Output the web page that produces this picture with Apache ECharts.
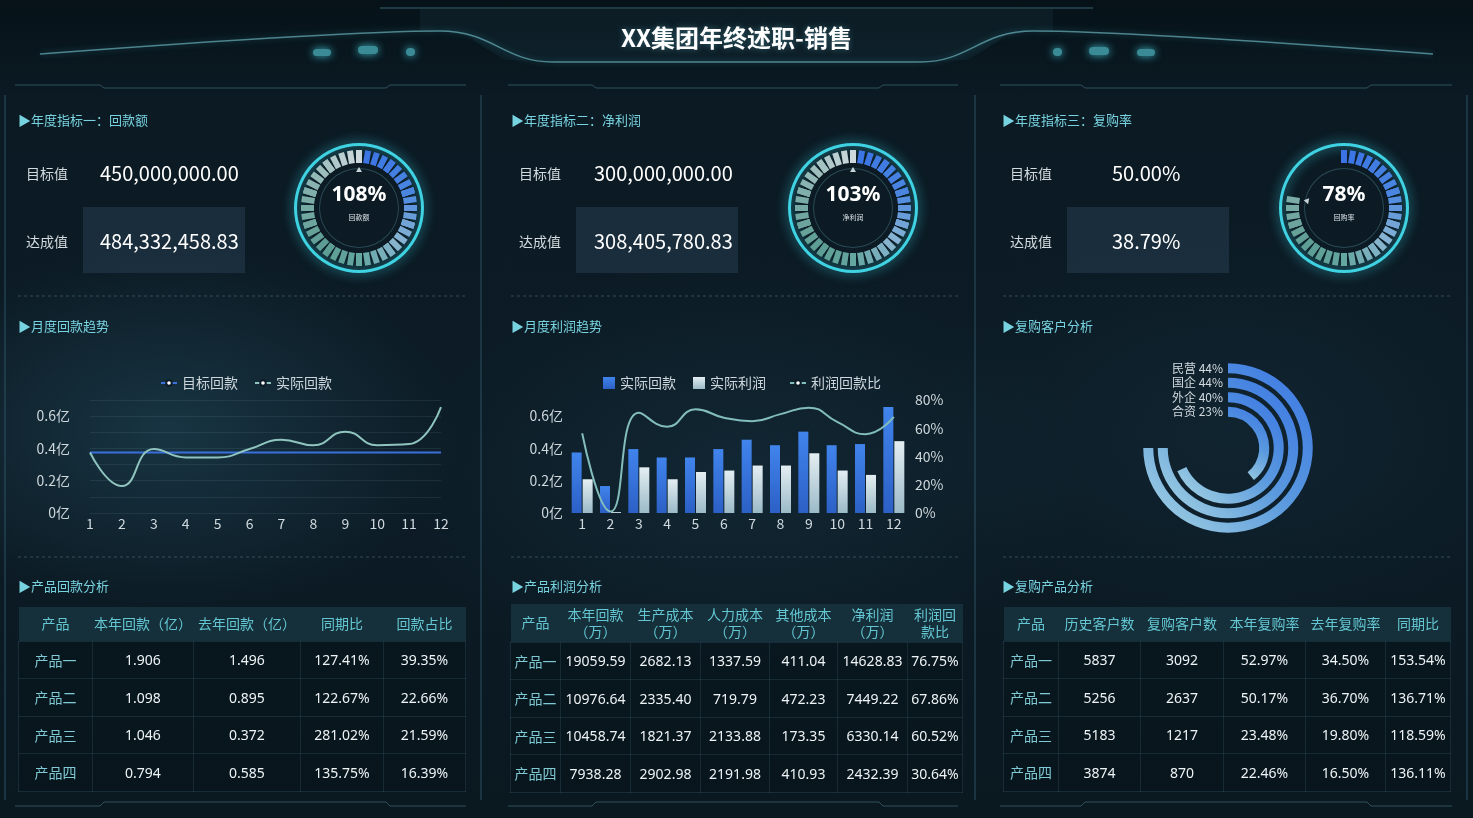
<!DOCTYPE html>
<html>
<head>
<meta charset="utf-8">
<script src="https://cdn.jsdelivr.net/npm/echarts@6/dist/echarts.min.js"></script>
<style>
html,body{margin:0;padding:0;}
body{width:1473px;height:818px;overflow:hidden;position:relative;font-family:"Noto Sans CJK SC","Noto Sans",sans-serif;
background:
 radial-gradient(ellipse 420px 260px at 170px 430px, rgba(36,78,96,0.50), rgba(36,78,96,0) 70%),
 radial-gradient(ellipse 500px 300px at 740px 470px, rgba(26,58,74,0.40), rgba(26,58,74,0) 70%),
 radial-gradient(ellipse 450px 300px at 1230px 430px, rgba(22,50,66,0.40), rgba(22,50,66,0) 70%),
 linear-gradient(180deg,#061218 0%,#0b1a23 12%,#0c1b25 60%,#0a1820 100%);}
.abs{position:absolute;white-space:nowrap;}
#main,#line,#bar{position:absolute;}
#main{left:0;top:0;width:1473px;height:818px;z-index:0;}
#line{left:0;top:340px;width:481px;height:210px;z-index:1;}
#bar{left:481px;top:340px;width:492px;height:210px;z-index:1;}
.title{left:0;top:18px;width:1473px;text-align:center;color:#fff;font-size:24px;font-weight:bold;line-height:38px;z-index:3;text-shadow:0 0 6px rgba(120,220,240,0.35);}
.sec{color:#78d3e0;font-size:13px;line-height:18px;z-index:3;}
.lbl{color:#d2dade;font-size:14px;line-height:20px;z-index:3;}
.val{color:#fff;font-size:20px;line-height:30px;z-index:3;}
.box{background:rgba(40,64,84,0.50);z-index:2;}
table{position:absolute;border-collapse:collapse;z-index:3;table-layout:fixed;}
th{background:#15303a;color:#63c6d2;font-weight:normal;font-size:14px;line-height:17px;padding:0;text-align:center;}
td{color:#eef3f5;font-size:14px;text-align:center;padding:0;border:1px solid rgba(60,92,108,0.30);background:rgba(8,20,28,0.55);font-family:"Noto Sans","Noto Sans CJK SC",sans-serif;}
td.p{color:#7fcad4;font-family:"Noto Sans CJK SC",sans-serif;}
</style>
</head>
<body>
<div id="main"></div>
<div id="line"></div>
<div id="bar"></div>
<div class="abs title">XX集团年终述职-销售</div>
<script>
// ---------------- data ----------------
const kpiTitles = ['▶年度指标一：回款额', '▶年度指标二：净利润', '▶年度指标三：复购率'];
const kpiTargets = ['450,000,000.00', '300,000,000.00', '50.00%'];
const kpiActuals = ['484,332,458.83', '308,405,780.83', '38.79%'];
const gaugeNames = ['回款额', '净利润', '回购率'];
const gaugeValues = [108, 103, 78];

const midTitles = ['▶月度回款趋势', '▶月度利润趋势', '▶复购客户分析'];
const botTitles = ['▶产品回款分析', '▶产品利润分析', '▶复购产品分析'];

const months = ['1','2','3','4','5','6','7','8','9','10','11','12'];
const targetMonthly = [0.375,0.375,0.375,0.375,0.375,0.375,0.375,0.375,0.375,0.375,0.375,0.375];
const actualMonthly = [0.375,0.167,0.396,0.344,0.344,0.396,0.454,0.42,0.504,0.42,0.427,0.656];
const profitMonthly = [0.209,0.006,0.283,0.209,0.254,0.263,0.294,0.294,0.37,0.263,0.236,0.445];
const ratioMonthly = [56.5,1,71,61,73.4,67.5,65,70,74.6,64.5,55.8,68];

const buyerTypes = ['合资','外企','国企','民营'];
const buyerPct = [23,40,44,44];

const products = ['产品一','产品二','产品三','产品四'];
const t1Head = ['产品','本年回款（亿）','去年回款（亿）','同期比','回款占比'];
const t1ThisYear = ['1.906','1.098','1.046','0.794'];
const t1LastYear = ['1.496','0.895','0.372','0.585'];
const t1Yoy = ['127.41%','122.67%','281.02%','135.75%'];
const t1Share = ['39.35%','22.66%','21.59%','16.39%'];

const t2Head = ['产品','本年回款<br>（万）','生产成本<br>（万）','人力成本<br>（万）','其他成本<br>（万）','净利润<br>（万）','利润回<br>款比'];
const t2Revenue = ['19059.59','10976.64','10458.74','7938.28'];
const t2Production = ['2682.13','2335.40','1821.37','2902.98'];
const t2Labor = ['1337.59','719.79','2133.88','2191.98'];
const t2Other = ['411.04','472.23','173.35','410.93'];
const t2Net = ['14628.83','7449.22','6330.14','2432.39'];
const t2Ratio = ['76.75%','67.86%','60.52%','30.64%'];

const t3Head = ['产品','历史客户数','复购客户数','本年复购率','去年复购率','同期比'];
const t3History = ['5837','5256','5183','3874'];
const t3Repeat = ['3092','2637','1217','870'];
const t3RateThis = ['52.97%','50.17%','23.48%','22.46%'];
const t3RateLast = ['34.50%','36.70%','19.80%','16.50%'];
const t3Yoy = ['153.54%','136.71%','118.59%','136.11%'];

// ---------------- HTML text ----------------
function addDiv(cls, html, x, y, st) {
  const d = document.createElement('div');
  d.className = 'abs ' + cls; d.innerHTML = html;
  d.style.left = x + 'px'; d.style.top = y + 'px';
  if (st) Object.assign(d.style, st);
  document.body.appendChild(d); return d;
}
const colOff = [0, 493, 984];
const valX = [100, 594, 1112];
colOff.forEach((o, i) => {
  addDiv('sec', kpiTitles[i], 18 + o, 111);
  addDiv('sec', midTitles[i], 18 + o, 317);
  addDiv('sec', botTitles[i], 18 + o, 577);
  addDiv('lbl', '目标值', 26 + o, 163);
  addDiv('lbl', '达成值', 26 + o, 231);
  addDiv('box', '', 83 + o, 207, {width: '162px', height: '66px'});
  addDiv('val', kpiTargets[i], valX[i], 158);
  addDiv('val', kpiActuals[i], valX[i], 226);
});

function makeTable(x, y, widths, head, headH, cols, rowH) {
  const t = document.createElement('table');
  t.style.left = x + 'px'; t.style.top = y + 'px';
  t.style.width = widths.reduce((a, b) => a + b, 0) + 'px';
  let h = '<colgroup>' + widths.map(w => '<col style="width:' + w + 'px">').join('') + '</colgroup>';
  h += '<tr style="height:' + headH + 'px">' + head.map(c => '<th>' + c + '</th>').join('') + '</tr>';
  for (let r = 0; r < products.length; r++) {
    h += '<tr style="height:' + rowH + 'px"><td class="p">' + products[r] + '</td>' +
      cols.map(c => '<td>' + c[r] + '</td>').join('') + '</tr>';
  }
  t.innerHTML = h;
  document.body.appendChild(t);
}
makeTable(18, 607, [74,101,107,83,82], t1Head, 34, [t1ThisYear, t1LastYear, t1Yoy, t1Share], 37.5);
makeTable(510, 604, [50,70,70,69,68,70,55], t2Head, 38, [t2Revenue, t2Production, t2Labor, t2Other, t2Net, t2Ratio], 37.5);
makeTable(1003, 607, [55,82,83,82,80,65], t3Head, 34, [t3History, t3Repeat, t3RateThis, t3RateLast, t3Yoy], 37.5);

// ---------------- main chart: decoration, gauges, polar ----------------
const FONT = '"Noto Sans CJK SC","Noto Sans",sans-serif';
const frameStroke = 'rgba(120,200,210,0.6)';
const decor = [];
decor.push({type:'polygon', silent:true, z:-1, shape:{points:[[420,9],[1053,9],[1053,31],[1033,31],[1005,36],[988,48],[968,60],[921,62],[552,62],[505,60],[485,48],[468,36],[440,31],[420,31]]}, style:{fill:'rgba(60,120,135,0.10)'}});
decor.push({type:'line', silent:true, shape:{x1:380,y1:8,x2:1093,y2:8}, style:{stroke:'rgba(110,180,195,0.5)', lineWidth:1}});
decor.push({type:'bezierCurve', silent:true, shape:{x1:40,y1:54,cpx1:200,cpy1:42,cpx2:360,cpy2:31,x2:440,y2:31}, style:{stroke:frameStroke, lineWidth:1.5, shadowBlur:6, shadowColor:'rgba(80,200,220,0.6)'}});
decor.push({type:'bezierCurve', silent:true, shape:{x1:440,y1:31,cpx1:492,cpy1:31,cpx2:505,cpy2:62,x2:552,y2:62}, style:{stroke:frameStroke, lineWidth:1.5, shadowBlur:6, shadowColor:'rgba(80,200,220,0.6)'}});
decor.push({type:'line', silent:true, shape:{x1:552,y1:62,x2:921,y2:62}, style:{stroke:frameStroke, lineWidth:1.5, shadowBlur:6, shadowColor:'rgba(80,200,220,0.6)'}});
decor.push({type:'bezierCurve', silent:true, shape:{x1:921,y1:62,cpx1:968,cpy1:62,cpx2:981,cpy2:31,x2:1033,y2:31}, style:{stroke:frameStroke, lineWidth:1.5, shadowBlur:6, shadowColor:'rgba(80,200,220,0.6)'}});
decor.push({type:'bezierCurve', silent:true, shape:{x1:1033,y1:31,cpx1:1113,cpy1:31,cpx2:1273,cpy2:42,x2:1433,y2:54}, style:{stroke:frameStroke, lineWidth:1.5, shadowBlur:6, shadowColor:'rgba(80,200,220,0.6)'}});
[[313,49,18,7],[358,46,20,8],[406,48,9,8],[1053,48,9,8],[1089,47,20,8],[1137,49,18,7]].forEach(d => {
  decor.push({type:'rect', silent:true, shape:{x:d[0],y:d[1],width:d[2],height:d[3],r:4}, style:{fill:'#3a8b95', shadowBlur:8, shadowColor:'#3fb8c8'}});
});
[[15,100,104,386,390,466],[508,592,596,879,883,958],[1000,1081,1085,1367,1371,1452]].forEach(p => {
  decor.push({type:'polyline', silent:true, shape:{points:[[p[0],85],[p[1],85],[p[2],88],[p[3],88],[p[4],85],[p[5],85]]}, style:{stroke:'rgba(90,150,165,0.45)', lineWidth:1, fill:null}});
  decor.push({type:'polyline', silent:true, shape:{points:[[p[0],806],[p[1],806],[p[2],802],[p[3],802],[p[4],806],[p[5],806]]}, style:{stroke:'rgba(90,150,165,0.45)', lineWidth:1, fill:null}});
  [296, 557].forEach(y => decor.push({type:'line', silent:true, shape:{x1:p[0]+3,y1:y,x2:p[5],y2:y}, style:{stroke:'rgba(120,170,185,0.35)', lineWidth:1, lineDash:[3,3]}}));
});
[5, 481, 975, 1467].forEach(x => decor.push({type:'line', silent:true, shape:{x1:x,y1:95,x2:x,y2:800}, style:{stroke:'rgba(55,100,120,0.5)', lineWidth:1.5}}));

const gaugeCenters = [[359,208],[853,208],[1344,208]];
const gaugeGrad = [[0,[58,114,228]],[0.2,[74,134,224]],[0.36,[138,182,210]],[0.5,[100,166,160]],[0.62,[92,156,146]],[0.8,[128,174,170]],[1,[204,216,220]]];
function gradAt(t) {
  for (let i = 1; i < gaugeGrad.length; i++) {
    if (t <= gaugeGrad[i][0]) {
      const a = gaugeGrad[i-1], b = gaugeGrad[i];
      const k = (t - a[0]) / (b[0] - a[0]);
      const c = a[1].map((v, j) => Math.round(v + (b[1][j] - v) * k));
      return 'rgb(' + c.join(',') + ')';
    }
  }
  return 'rgb(204,216,220)';
}
function segColors(v) {
  const f = Math.min(v / 100, 1), out = [];
  for (let k = 1; k <= 80; k++) { const t = k / 80; out.push([t, t <= f + 1e-6 ? gradAt(t) : 'rgba(0,0,0,0)']); }
  return out;
}
const hidden = {axisTick:{show:false}, splitLine:{show:false}, axisLabel:{show:false}, pointer:{show:false}, detail:{show:false}, title:{show:false}, anchor:{show:false}};
const series = [];
gaugeValues.forEach((v, i) => {
  const c = gaugeCenters[i];
  series.push(Object.assign({type:'gauge', silent:true, center:c, radius:65, startAngle:90, endAngle:-270,
    axisLine:{lineStyle:{width:3, color:[[1,'#3fd2e2']], shadowBlur:12, shadowColor:'rgba(60,210,230,0.9)'}}, data:[{value:0}]}, hidden));
  series.push(Object.assign({type:'gauge', silent:true, center:c, radius:40, startAngle:90, endAngle:-270,
    axisLine:{lineStyle:{width:1, color:[[1,'#2a4a54']]}}, data:[{value:0}]}, hidden));
  series.push({type:'gauge', silent:true, center:c, radius:58, startAngle:90, endAngle:-270, min:0, max:100, splitNumber:10,
    axisLine:{show:false, lineStyle:{width:0, color:segColors(v)}},
    axisTick:{show:true, splitNumber:4, distance:0, length:13, lineStyle:{width:6, color:'auto'}},
    splitLine:{show:true, distance:0, length:13, lineStyle:{width:6, color:'auto'}},
    axisLabel:{show:false}, progress:{show:false}, anchor:{show:false},
    pointer:{show:true, icon:'triangle', length:5, width:6, offsetCenter:[0,-36], itemStyle:{color:'#c6d4d8'}},
    title:{offsetCenter:[0,9], fontSize:7, color:'#d8e0e4', fontFamily:FONT},
    detail:{offsetCenter:[0,-13], formatter:'{value}%', fontSize:21, fontWeight:'bold', color:'#ffffff', fontFamily:'"Noto Sans",sans-serif'},
    data:[{value:v, name:gaugeNames[i]}]});
});
series.push({type:'bar', coordinateSystem:'polar', silent:true, barWidth:10, data:buyerPct,
  itemStyle:{color:new echarts.graphic.LinearGradient(1,0,0,1,[{offset:0,color:'#3a76e4'},{offset:0.5,color:'#5b9ade'},{offset:1,color:'#a8d6e2'}])}});

const main = echarts.init(document.getElementById('main'));
main.setOption({
  animation:false,
  textStyle:{fontFamily:FONT},
  polar:{center:[1228,448], radius:[29,87]},
  angleAxis:{max:58.67, startAngle:90, clockwise:true, show:false},
  radiusAxis:{type:'category', data:buyerTypes, z:10, axisLine:{show:false}, axisTick:{show:false}, splitLine:{show:false},
    axisLabel:{interval:0, color:'#d3dbe0', fontSize:12, margin:5, formatter:(n, i) => n + ' ' + buyerPct[i] + '%'}},
  graphic:{elements:decor},
  series:series
});

// ---------------- line chart ----------------
const axisTxt = {color:'#cfd8dd', fontSize:14, fontFamily:FONT};
const legendTxt = {color:'#cdd6dc', fontSize:14};
const darkFill = '#0c1b25';
const yiFmt = v => (Math.round(v * 10) % 2 === 0 ? (Math.round(v * 10) / 10) + '亿' : '');
const lineChart = echarts.init(document.getElementById('line'));
lineChart.setOption({
  animation:false,
  textStyle:{fontFamily:FONT},
  legend:{left:155, top:31, itemWidth:16, itemHeight:7, itemGap:16, textStyle:legendTxt,
    data:[{name:'目标回款', itemStyle:{color:darkFill, borderColor:'#3a70dc', borderWidth:1.5}},
          {name:'实际回款', itemStyle:{color:darkFill, borderColor:'#8fc4bf', borderWidth:1.5}}]},
  grid:{left:90, top:60, width:351, height:113},
  xAxis:{type:'category', data:months, boundaryGap:false, axisLine:{show:false}, axisTick:{show:false}, axisLabel:Object.assign({margin:4}, axisTxt)},
  yAxis:{type:'value', min:0, max:0.7, interval:0.1, axisLine:{show:false}, axisTick:{show:false},
    axisLabel:Object.assign({margin:20, formatter:yiFmt}, axisTxt),
    splitLine:{lineStyle:{color:'rgba(130,170,190,0.12)'}}},
  series:[
    {name:'目标回款', type:'line', data:targetMonthly, symbol:'emptyCircle', showSymbol:false, lineStyle:{color:'#3a70dc', width:2}, itemStyle:{color:'#3a70dc'}},
    {name:'实际回款', type:'line', data:actualMonthly, smooth:true, symbol:'emptyCircle', showSymbol:false, lineStyle:{color:'#8fc4bf', width:2}, itemStyle:{color:'#8fc4bf'}}
  ]
});

// ---------------- bar chart ----------------
const barChart = echarts.init(document.getElementById('bar'));
barChart.setOption({
  animation:false,
  textStyle:{fontFamily:FONT},
  legend:[
    {left:117, top:31, itemWidth:12, itemHeight:12, itemGap:17, textStyle:legendTxt,
      data:[{name:'实际回款', icon:'rect'},{name:'实际利润', icon:'rect'}]},
    {left:303, top:31, itemWidth:16, itemHeight:7, textStyle:legendTxt,
      data:[{name:'利润回款比', itemStyle:{color:darkFill, borderColor:'#82bcbc', borderWidth:1.5}}]}
  ],
  grid:{left:87, top:60, width:340, height:113},
  xAxis:{type:'category', data:months, axisLine:{show:false}, axisTick:{show:false}, axisLabel:Object.assign({margin:4}, axisTxt)},
  yAxis:[
    {type:'value', min:0, max:0.7, interval:0.1, axisLine:{show:false}, axisTick:{show:false}, splitLine:{show:false},
      axisLabel:Object.assign({margin:5, formatter:yiFmt}, axisTxt)},
    {type:'value', min:0, max:80, interval:20, position:'right', axisLine:{show:false}, axisTick:{show:false}, splitLine:{show:false},
      axisLabel:Object.assign({margin:7, formatter:'{value}%'}, axisTxt)}
  ],
  series:[
    {name:'实际回款', type:'bar', data:actualMonthly, barWidth:10, barGap:'10%',
      itemStyle:{color:new echarts.graphic.LinearGradient(0,0,0,1,[{offset:0,color:'#4084ec'},{offset:1,color:'#2c60c6'}])}},
    {name:'实际利润', type:'bar', data:profitMonthly, barWidth:10,
      itemStyle:{color:new echarts.graphic.LinearGradient(0,0,0,1,[{offset:0,color:'#e4eef2'},{offset:1,color:'#9bbac8'}])}},
    {name:'利润回款比', type:'line', yAxisIndex:1, data:ratioMonthly, smooth:true, symbol:'emptyCircle', showSymbol:false,
      lineStyle:{color:'#82bcbc', width:2}, itemStyle:{color:'#82bcbc'}}
  ]
});
</script>
</body>
</html>
